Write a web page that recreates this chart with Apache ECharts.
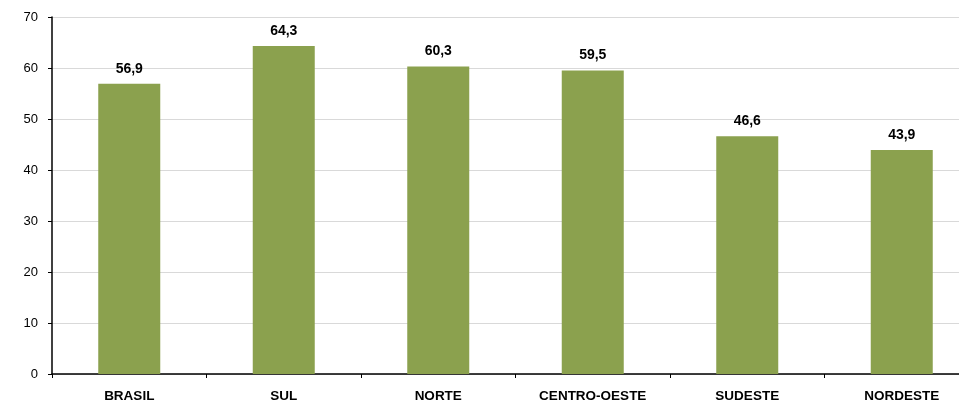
<!DOCTYPE html>
<html>
<head>
<meta charset="utf-8">
<script src="https://cdn.jsdelivr.net/npm/echarts@6/dist/echarts.min.js"></script>
<style>
  html, body { margin: 0; padding: 0; background: #fff; overflow: hidden; }
  #chart { width: 959px; height: 402px; }
</style>
</head>
<body>
<div id="chart"></div>
<script>
var regioes = ['BRASIL', 'SUL', 'NORTE', 'CENTRO-OESTE', 'SUDESTE', 'NORDESTE'];
var valores = [56.9, 64.3, 60.3, 59.5, 46.6, 43.9];

var myChart = echarts.init(document.getElementById('chart'));
// the original picture is cut on the right, so the plot runs past the edge
myChart.setOption({
    animation: false,
    grid: { left: 52, width: 927, top: 17, bottom: 28, outerBoundsMode: 'none', containLabel: false },
    xAxis: {
        type: 'category',
        data: regioes,
        axisLine: { lineStyle: { color: '#000', width: 1.5 } },
        axisTick: { show: true, length: 4, lineStyle: { color: '#000' } },
        axisLabel: {
            color: '#000', fontFamily: 'Liberation Sans, Arial', fontWeight: 'bold',
            fontSize: 13.5, margin: 15
        }
    },
    yAxis: {
        type: 'value',
        min: 0, max: 70, interval: 10,
        axisLine: { show: true, lineStyle: { color: '#000', width: 1.5 } },
        axisTick: { show: true, length: 4, lineStyle: { color: '#000' } },
        axisLabel: { color: '#000', fontFamily: 'Liberation Sans, Arial', fontSize: 13, margin: 14 },
        splitLine: { show: true, lineStyle: { color: '#d9d9d9', width: 1 } }
    },
    series: [{
        type: 'bar',
        data: valores,
        barWidth: 62,
        itemStyle: { color: '#8BA14E' },
        label: {
            show: true, position: 'top', distance: 8,
            color: '#000', fontFamily: 'Liberation Sans, Arial', fontWeight: 'bold', fontSize: 14,
            formatter: function (p) { return p.value.toFixed(1).replace('.', ','); }
        }
    }]
});
</script>
</body>
</html>
